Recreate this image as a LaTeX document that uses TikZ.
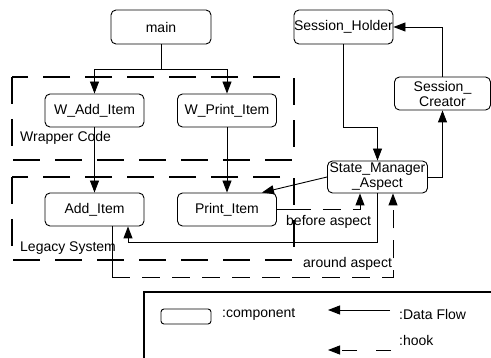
\documentclass[tikz,border=0pt]{standalone}
\usepackage{fontspec}
\setmainfont{Liberation Sans}
\usetikzlibrary{arrows.meta,calc}
\begin{document}
\begin{tikzpicture}[x=1pt,y=-1pt,
  comp/.style={draw,rounded corners=5pt,inner sep=0pt,minimum width=99pt,minimum height=33pt,font=\fontsize{14}{15}\selectfont,align=center,line width=0.9pt},
  arr/.style={-{Triangle[length=12pt,width=9pt]},line width=0.9pt},
  hookline/.style={-{Triangle[length=12pt,width=9pt]},line width=0.9pt,dash pattern=on 18pt off 12pt},
  grp/.style={line width=2pt,dash pattern=on 27pt off 15pt},
  lbl/.style={font=\fontsize{14}{15}\selectfont,inner sep=0pt,anchor=west}]
\useasboundingbox (0,0) rectangle (491,358);
% groups
\draw[grp] (12,77) rectangle (294,160);
\draw[grp] (12,177) rectangle (294,260);
\node[lbl] (wc) at (20,138) {Wrapper Code};
\node[lbl] (ls) at (20,248) {Legacy System};
% components
\node[comp,minimum width=100pt,minimum height=34pt] (main) at (161,27) {main};
\node[comp] (wadd) at (94.5,110.5) {W\_Add\_Item};
\node[comp] (wprint) at (227,110.5) {W\_Print\_Item};
\node[comp] (add) at (94.5,209.5) {Add\_Item};
\node[comp] (print) at (227,209.5) {Print\_Item};
\node[comp,minimum height=34pt] (sholder) at (343.5,27) {Session\_Holder};
\node[comp,minimum width=96pt] (screator) at (442.5,93.5) {Session\_\\Creator};
\node[comp,minimum width=100pt,minimum height=32pt] (sm) at (377.5,177) {State\_Manager\\\_Aspect};
% data flow
\coordinate (split) at (161,69);
\draw[line width=0.9pt] (main) -- (split);
\draw[arr] (split) -| (wadd);
\draw[arr] (split) -| (wprint);
\draw[arr] (wadd) -- (add);
\draw[arr] (wprint) -- (print);
\coordinate (c1) at (377.5,127);
\draw[arr] (sholder.south) |- (c1) -- (sm.north);
\draw[arr] (sm) -| (screator);
\draw[arr] (screator) |- (sholder);
\draw[arr] (sm.west) -- ([xshift=-15pt]print.north east);
\draw[arr] (sm.south) -- ++(0,49) -| ([xshift=33.5pt]add.south);
% hooks
\draw[line width=0.9pt] (print.east) -- ++(16,0) coordinate (b1);
\draw[hookline] (b1) -| ([xshift=-17.5pt]sm.south);
\node[lbl] (ba) at (286,222) {before aspect};
\draw[line width=0.9pt] ([xshift=17.5pt]add.south) -- ++(0,51) coordinate (a1);
\draw[hookline] (a1) -| ([xshift=15.5pt]sm.south);
\node[lbl] (aa) at (303,264) {around aspect};
% legend
\draw[line width=1.1pt] (495,292) -- (144,292) -- (144,362);
\node[draw,rounded corners=3pt,minimum width=50pt,minimum height=15pt,inner sep=0pt,line width=0.9pt] (lc) at (186,316.5) {};
\node[lbl] (lct) at (222,314) {:component};
\coordinate (df1) at (390,310);
\coordinate (df2) at (328,310);
\draw[arr] (df1) -- (df2);
\node[lbl] (ldf) at (399,314) {:Data Flow};
\coordinate (h1) at (391,350);
\coordinate (h2) at (328,350);
\draw[arr,dash pattern=on 15pt off 19pt] (h1) -- (h2);
\node[lbl] (lh) at (399,340) {:hook};
\end{tikzpicture}
\end{document}
